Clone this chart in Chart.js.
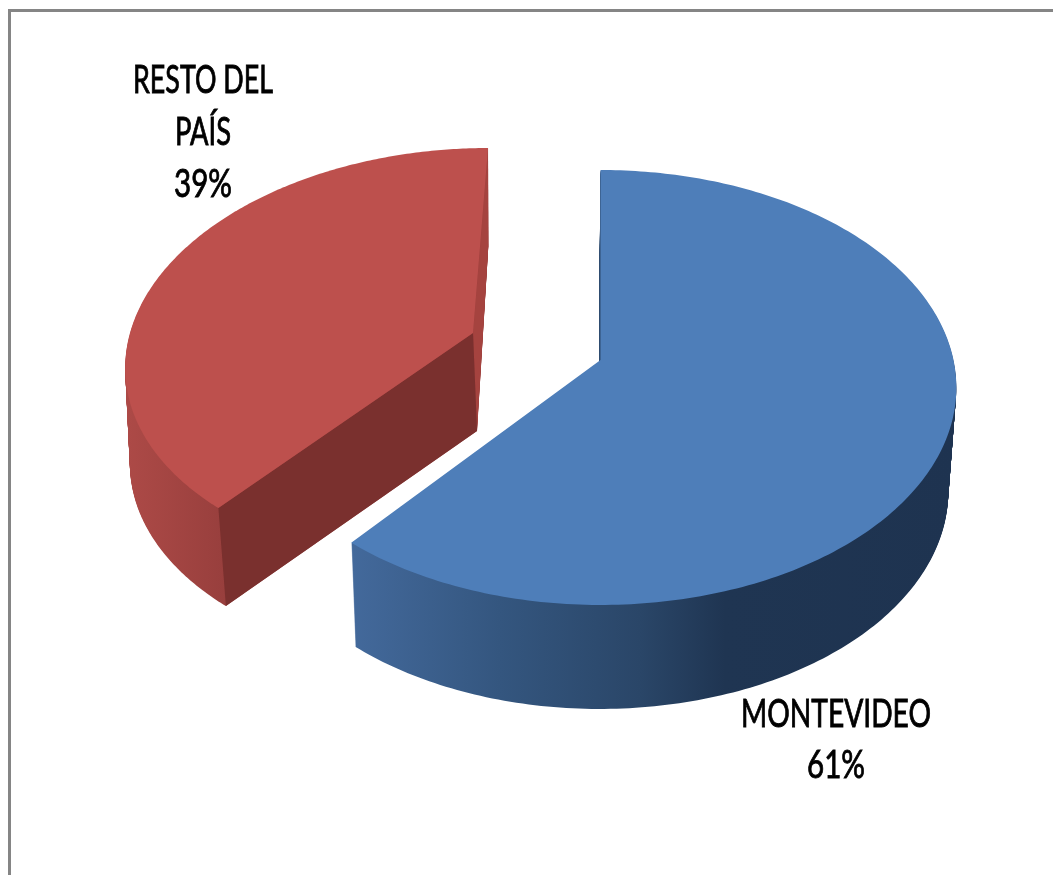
<!DOCTYPE html>
<html>
<head>
<meta charset="utf-8">
<style>
    html, body {margin: 0; padding: 0; background: #ffffff; overflow: hidden;}
    #frame {position: absolute; left: 8px; top: 9px; width: 1045px; height: 866px; border-top: 3px solid #858585; border-left: 3px solid #858585; box-sizing: border-box;}
    #myChart {position: absolute; left: 0; top: 0;}
</style>
<script src="https://cdn.jsdelivr.net/npm/chart.js@4"></script>
</head>
<body>
<div id="frame"></div>
<canvas id="myChart" width="1053" height="875"></canvas>
<script>
const categories = ["MONTEVIDEO", "RESTO DEL PAÍS"];
const values = [61, 39];
const label_lines = [["MONTEVIDEO"], ["RESTO DEL", "PAÍS"]];
const colors = ['#4e7eb9', '#bd504d'];

// how each slice is laid over the page: chart.js only knows a flat round pie,
// so every slice goes through a small perspective (persp) plus a wall below it
const slice_shapes = [
    {cx: 600.5, cy: 360, rx: 353, ry: 214, persp: -0.1264, skew: 0, depth: 104,
     wall_a: -0.94, wall_b: -0.02, wall_c: 0,
     wall_stops: [[353, '#43699b'], [500, '#34567f'], [640, '#2a4668'], [725, '#1f3552'], [960, '#1e3350']]},
    {cx: 473, cy: 333, rx: 343, ry: 206.7, persp: -0.1174, skew: -16.8, depth: 98,
     wall_a: 4, wall_b: 0, wall_c: 0.02,
     wall_stops: [[125, '#ad4a47'], [225, '#983f3d'], [500, '#983f3d']],
     start_face: '#7a302e', end_face: '#a5433f'}
];
const label_styles = [
    {x: 836, y: [727, 778], width: [190, 58]},
    {x: 203, y: [93, 145, 197], width: [140, 56, 58]}
];

function project(shape, cos_a, sin_a, t) {
    let w = 1 + shape.persp * sin_a;
    let dx = (cos_a * shape.rx + sin_a * shape.skew) / w;
    let dy = sin_a * shape.ry / w;
    let wall = t * (shape.wall_a + shape.wall_b * dx + shape.wall_c * dy);
    return {x: shape.cx + dx + wall, y: shape.cy + dy + t * shape.depth};
}

function sectorPath(ctx, arc, shape, t) {
    let steps = 240;
    let centre = project(shape, 0, 0, t);
    ctx.beginPath();
    ctx.moveTo(centre.x, centre.y);
    for (let i = 0; i <= steps; i++) {
        let a = arc.startAngle + (arc.endAngle - arc.startAngle) * i / steps;
        let p = project(shape, Math.cos(a), Math.sin(a), t);
        ctx.lineTo(p.x, p.y);
    }
    ctx.closePath();
}

function cutFace(ctx, shape, angle, color) {
    let c = Math.cos(angle);
    let s = Math.sin(angle);
    let pts = [project(shape, 0, 0, 0), project(shape, c, s, 0), project(shape, c, s, 1), project(shape, 0, 0, 1)];
    ctx.beginPath();
    ctx.moveTo(pts[0].x, pts[0].y);
    for (let i = 1; i < 4; i++) ctx.lineTo(pts[i].x, pts[i].y);
    ctx.closePath();
    ctx.fillStyle = color;
    ctx.fill();
}

const pie3d = {
    id: 'pie3d',
    beforeDatasetDraw(chart, args) {
        let ctx = chart.ctx;
        let arcs = args.meta.data;
        // red one first, blue sits in front of it
        for (let n = arcs.length - 1; n >= 0; n--) {
            let arc = arcs[n];
            let shape = slice_shapes[n];
            let x0 = shape.wall_stops[0][0];
            let x1 = shape.wall_stops[shape.wall_stops.length - 1][0];
            let grad = ctx.createLinearGradient(x0, 0, x1, 0);
            shape.wall_stops.forEach((st) => grad.addColorStop((st[0] - x0) / (x1 - x0), st[1]));
            ctx.fillStyle = grad;
            for (let d = shape.depth; d >= 1; d--) {
                sectorPath(ctx, arc, shape, d / shape.depth);
                ctx.fill();
            }
            if (shape.end_face) cutFace(ctx, shape, arc.endAngle, shape.end_face);
            if (shape.start_face) cutFace(ctx, shape, arc.startAngle, shape.start_face);
            sectorPath(ctx, arc, shape, 0);
            ctx.fillStyle = arc.options.backgroundColor;
            ctx.fill();
        }
        return false;
    },
    afterDatasetsDraw(chart) {
        let ctx = chart.ctx;
        ctx.save();
        ctx.font = "39px Lato, 'Liberation Sans', sans-serif";
        ctx.textAlign = 'center';
        ctx.textBaseline = 'alphabetic';
        ctx.fillStyle = '#000000';
        ctx.strokeStyle = '#000000';
        ctx.lineWidth = 0.9;
        categories.forEach((cat, n) => {
            let lines = label_lines[n].concat([values[n] + '%']);
            let st = label_styles[n];
            lines.forEach((line, i) => {
                ctx.fillText(line, st.x, st.y[i], st.width[i]);
                ctx.strokeText(line, st.x, st.y[i], st.width[i]);
            });
        });
        ctx.restore();
    }
};

new Chart(document.getElementById('myChart'), {
    type: 'pie',
    data: {
        labels: categories,
        datasets: [{data: values, backgroundColor: colors, borderWidth: 0}]
    },
    options: {
        responsive: false,
        animation: false,
        plugins: {legend: {display: false}, tooltip: {enabled: false}}
    },
    plugins: [pie3d]
});
</script>
</body>
</html>
